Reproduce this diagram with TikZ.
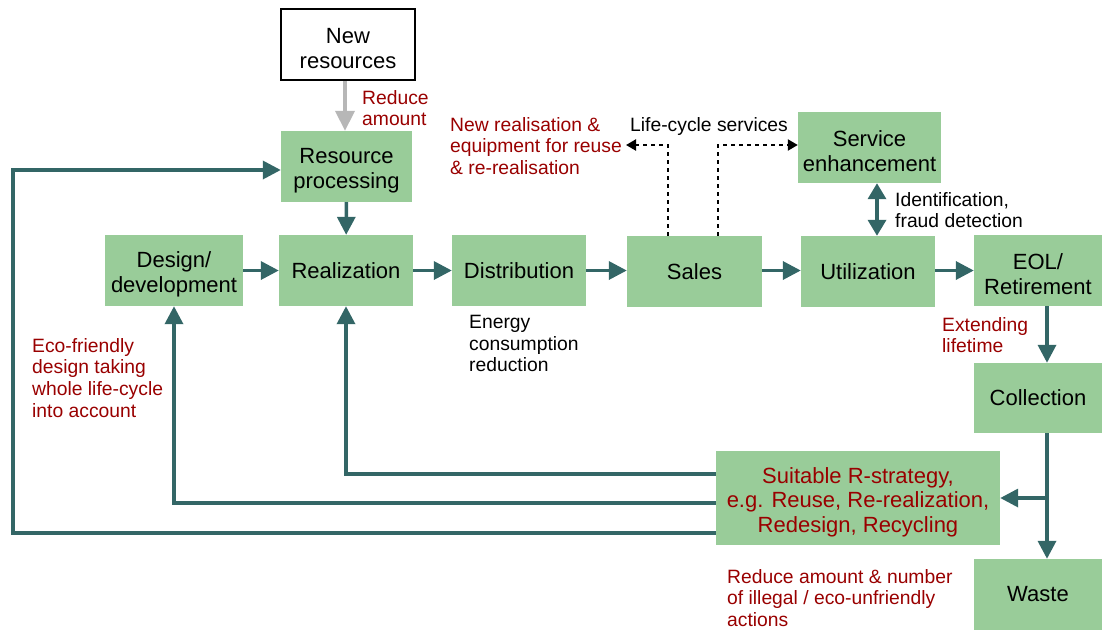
\documentclass[tikz,border=0pt]{standalone}
\usepackage{fontspec}
\setmainfont{Liberation Sans}
\usetikzlibrary{arrows.meta}
\definecolor{boxgreen}{RGB}{153,204,153}
\definecolor{flowteal}{RGB}{51,102,102}
\definecolor{notered}{RGB}{153,0,0}
\definecolor{feedgray}{RGB}{183,183,183}
% taller first line so stacked box labels sit a little lower
\newcommand{\firstline}{\rule{0pt}{24pt}}
\begin{document}
\begin{tikzpicture}[x=1pt,y=-1pt,
  stage/.style={fill=boxgreen,draw=none,align=center,inner sep=2pt,
    font=\fontsize{22}{25}\selectfont,minimum height=71pt},
  srcbox/.style={stage,fill=white,draw=black,line width=1.6pt},
  flow/.style={draw=flowteal,line width=3.5pt,
    -{Triangle[length=18pt,width=18pt]}},
  flowboth/.style={draw=flowteal,line width=3.5pt,
    {Triangle[length=16pt,width=18pt]}-{Triangle[length=16pt,width=18pt]}},
  inflow/.style={draw=feedgray,line width=4pt,
    -{Triangle[length=20pt,width=19pt]}},
  service/.style={draw=black,line width=2.2pt,dash pattern=on 4pt off 4pt,
    -{Triangle[length=10pt,width=11pt]}},
  note/.style={align=left,inner sep=0pt,anchor=north west,
    font=\fontsize{19.3}{21.7}\selectfont},
  rednote/.style={note,text=notered}]
\useasboundingbox (0,0) rectangle (1102,630);

% main stages
\node[srcbox,minimum width=134pt] (newres) at (348,44.5) {\firstline New\\resources};
\node[stage,minimum width=131pt] (resproc) at (346.5,166.5) {\firstline Resource\\processing};
\node[stage,minimum width=138pt] (design) at (174,270.5) {\firstline Design/\\development};
\node[stage,minimum width=134pt] (real) at (346,270.5) {Realization};
\node[stage,minimum width=134pt] (dist) at (519,270.5) {Distribution};
\node[stage,minimum width=135pt] (sales) at (694.5,271.5) {Sales};
\node[stage,minimum width=134pt] (util) at (868,271.5) {Utilization};
\node[stage,minimum width=128pt] (eol) at (1038,270.5) {\firstline EOL/\\Retirement};
\node[stage,minimum width=143pt] (serv) at (869.5,147.5) {\firstline Service\\enhancement};
\node[stage,minimum width=128pt,minimum height=70pt] (coll) at (1038,398) {Collection};
\node[stage,minimum width=128pt] (waste) at (1038,594.5) {Waste};
\node[stage,minimum width=284pt,minimum height=94pt,text=notered,
  font=\fontsize{22}{24.5}\selectfont] (rstrat) at (858,498)
  {\firstline Suitable R-strategy,\\e.g. Reuse, Re-realization,\\Redesign, Recycling};

% forward flow
\draw[inflow] (newres.south -| 345,0) -- (resproc.north -| 345,0);
\draw[flow] (resproc) -- (real);
\draw[flow] (design) -- (real);
\draw[flow] (real) -- (dist);
\draw[flow] (dist) -- (sales.west |- dist);
\draw[flow] (sales.east |- dist) -- (util.west |- dist);
\draw[flow] (util.east |- dist) -- (eol);
\draw[flowboth] (serv.south -| 877,0) -- (util.north -| 877,0);
\draw[flow] (eol.south -| 1047,0) -- (coll.north -| 1047,0);
\draw[flow] (coll.south -| 1047,0) -- (waste.north -| 1047,0);
\coordinate (branch) at (1047,498);
\draw[flow] (branch) -- (rstrat.east);

% feedback loops from the R-strategy
\draw[flow] (rstrat.west |- 0,474) -| (real.south);
\draw[flow] (rstrat.west |- 0,503) -| (design.south);
\coordinate (loopcorner) at (13,533);
\draw[flow] (rstrat.west |- loopcorner) -- (loopcorner) |- (resproc.west |- 0,170);

% life-cycle services from sales
\coordinate (svcleft) at (626,145);
\draw[service] (sales.north -| 668,0) |- (svcleft);
\draw[service] (sales.north -| 718,0) |- (serv.west |- 0,145);

% annotations
\node[rednote] (nreduce) at (362,90) {Reduce\\amount};
\node[rednote] (nnewreal) at (450,117) {New realisation \&\\equipment for reuse\\\& re-realisation};
\node[note] (nlife) at (630,117) {Life-cycle services};
\node[note] (nident) at (895,192) {Identification,\\fraud detection};
\node[note] (nenergy) at (469,315) {Energy\\consumption\\reduction};
\node[rednote] (nextend) at (942,317) {Extending\\lifetime};
\node[rednote] (neco) at (32,338) {Eco-friendly\\design taking\\whole life-cycle\\into account};
\node[rednote] (nillegal) at (727,569) {Reduce amount \& number\\of illegal / eco-unfriendly\\actions};
\end{tikzpicture}
\end{document}
